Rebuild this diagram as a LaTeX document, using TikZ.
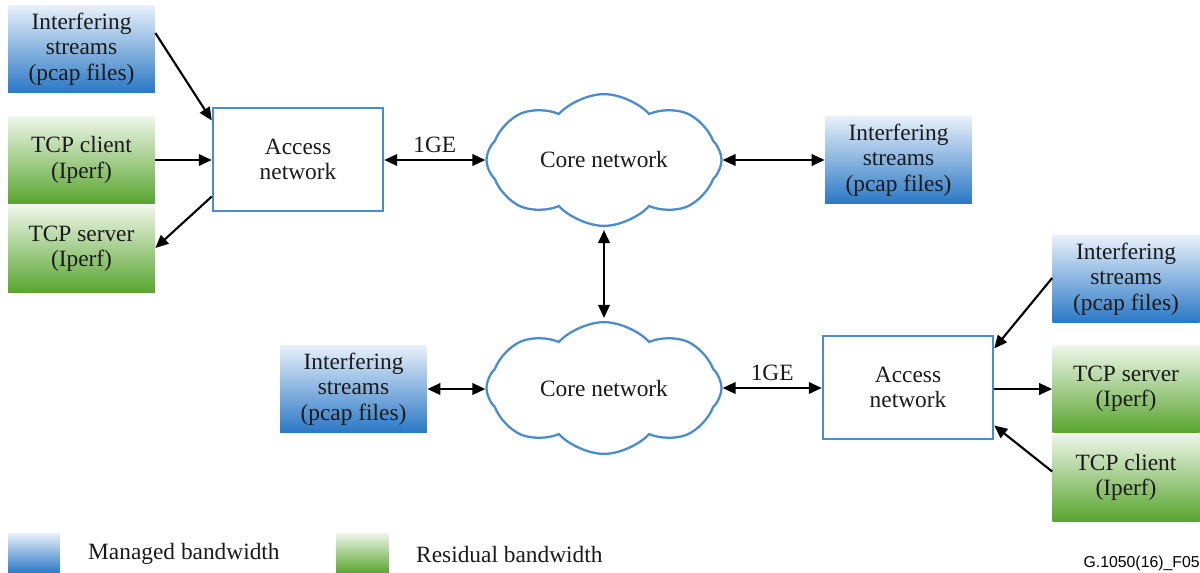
\documentclass[tikz,border=0pt]{standalone}
\usepackage{fontspec}
\setmainfont{Liberation Serif}
\newfontfamily\figsans{Liberation Sans}
\usetikzlibrary{shapes.symbols,arrows.meta,calc}
\definecolor{edgeblue}{HTML}{4A8CCC}
\definecolor{mbtop}{HTML}{E8F0FA}
\definecolor{mbbot}{HTML}{2A78C6}
\definecolor{rbtop}{HTML}{EEF6E9}
\definecolor{rbbot}{HTML}{59A52F}
\definecolor{ink}{HTML}{1A1A1A}
\tikzset{
  txt/.style={font=\fontsize{13.3}{14.5}\selectfont, align=center, text=ink},
  managed/.style={txt, inner sep=0pt, minimum width=2.94cm, minimum height=1.74cm,
    top color=mbtop, bottom color=mbbot},
  residual/.style={txt, inner sep=0pt, minimum width=2.94cm, minimum height=1.74cm,
    top color=rbtop, bottom color=rbbot},
  accessbox/.style={txt, draw=edgeblue, line width=1.4pt, fill=white,
    minimum width=3.4cm, minimum height=2.06cm},
  core/.style={txt, cloud, cloud puffs=8, cloud puff arc=95, draw=edgeblue,
    line width=1.3pt, fill=white, minimum width=4.7cm, minimum height=2.5cm, aspect=1.85},
  link/.style={line width=1.2pt, -{Triangle[length=2.6mm,width=2.3mm]}},
  biglink/.style={line width=1.2pt, {Triangle[length=2.6mm,width=2.3mm]}-{Triangle[length=2.6mm,width=2.3mm]}},
}
\begin{document}
\begin{tikzpicture}[x=0.02cm, y=-0.02cm]
\useasboundingbox (0,0) rectangle (1200,572);

% upper site
\node[managed]  (itfA) at (81.5,49)  {Interfering\\streams\\(pcap files)};
\node[residual] (cliA) at (81.5,160) {TCP client\\(Iperf)};
\node[residual] (srvA) at (81.5,249) {TCP server\\(Iperf)};
\node[accessbox] (accA) at (298,159.5) {Access\\network};
\node[core] (coreA) at (604,160) {Core network};
\node[managed]  (itfB) at (898.5,160) {Interfering\\streams\\(pcap files)};

% lower site
\node[core] (coreB) at (604,388) {Core network};
\node[managed]  (itfC) at (353.5,389) {Interfering\\streams\\(pcap files)};
\node[accessbox] (accB) at (908,387.5) {Access\\network};
\node[managed]  (itfD) at (1126,279) {Interfering\\streams\\(pcap files)};
\node[residual] (srvB) at (1126,389) {TCP server\\(Iperf)};
\node[residual] (cliB) at (1126,477.5) {TCP client\\(Iperf)};

% connectors, upper site
\draw[link] ($(itfA.east)+(0,-16)$) -- ($(accA.west)+(0,-39)$);
\draw[link] (cliA.east) -- (accA.west |- cliA.east);
\draw[link] ($(accA.west)+(0,37)$) -- ($(srvA.east)+(0,-1)$);
\draw[biglink] (accA.east |- coreA.west) -- node[above=0pt, txt] (geA) {1GE} (coreA.west);
\draw[biglink] (coreA.east) -- (itfB.west);
\draw[biglink] ($(coreA.south)+(0,3)$) -- ($(coreB.north)+(0,-3)$);

% connectors, lower site
\draw[biglink] (itfC.east) -- (coreB.west |- itfC.east);
\draw[biglink] (coreB.east) -- node[above=0pt, txt] (geB) {1GE} (accB.west |- coreB.east);
\draw[link] ($(itfD.west)+(0,-1)$) -- ($(accB.east)+(0,-39)$);
\draw[link] (accB.east |- srvB.west) -- (srvB.west);
\draw[link] ($(cliB.west)+(0,-6)$) -- ($(accB.east)+(0,38)$);

% legend
\node[managed, minimum width=1.04cm, minimum height=0.8cm] (legM) at (34,553) {};
\node[txt, anchor=west] (legMt) at (82,554) {Managed bandwidth};
\node[residual, minimum width=1.06cm, minimum height=0.8cm] (legR) at (362.5,553) {};
\node[txt, anchor=west] (legRt) at (410,554) {Residual bandwidth};

\node[font=\figsans\fontsize{9}{10}\selectfont, anchor=east, inner sep=0pt] (figid) at (1200,563) {G.1050(16)\_F05};
\end{tikzpicture}
\end{document}
